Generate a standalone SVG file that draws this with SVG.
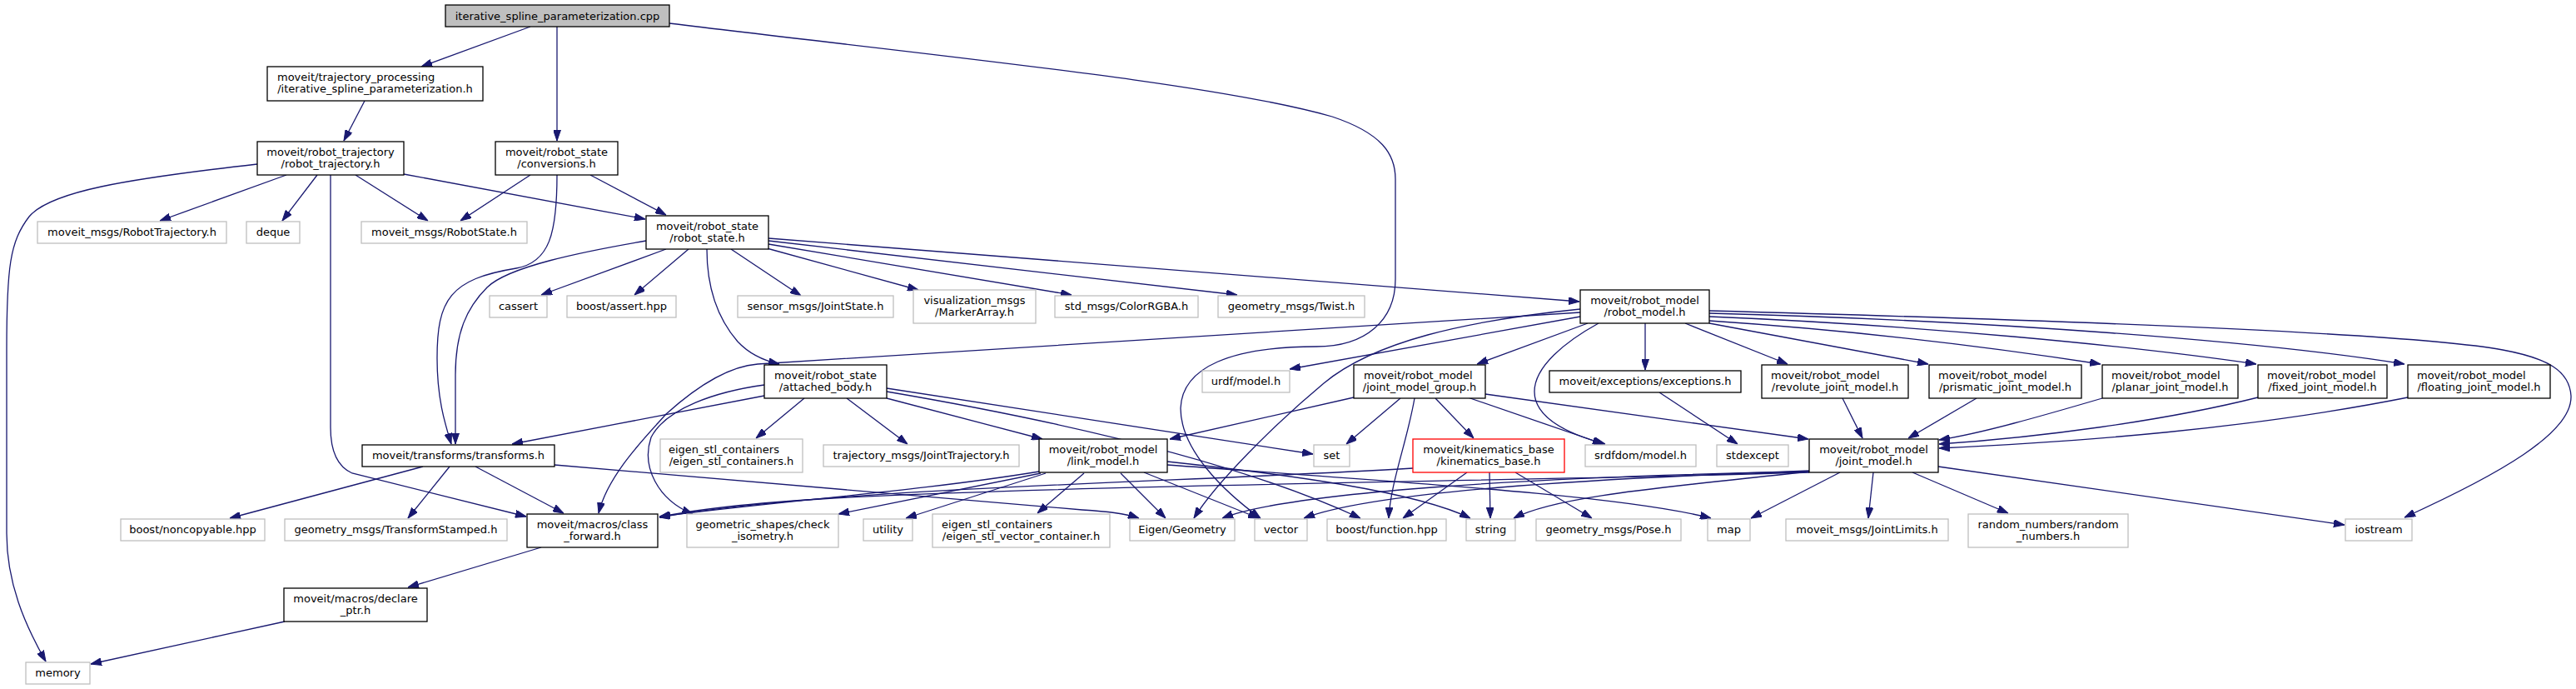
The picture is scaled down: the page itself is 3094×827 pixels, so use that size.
<svg xmlns="http://www.w3.org/2000/svg" width="3094" height="827" viewBox="0 0 3094 827">
<defs>
<style>
.n{fill:#fff;stroke:#000;stroke-width:1.3}
.g{fill:#fff;stroke:#bfbfbf;stroke-width:1.3}
.r{fill:#bfbfbf;stroke:#000;stroke-width:1.3}
.k{fill:#fff;stroke:#ff0000;stroke-width:1.3}
text{font-family:"DejaVu Sans","Liberation Sans",sans-serif;font-size:13px;fill:#000}
.t{text-anchor:middle}
.s{text-anchor:start}
.e path{fill:none;stroke:#191970;stroke-width:1.3;marker-end:url(#ah)}
</style>
<marker id="ah" viewBox="0 0 13 9" refX="13" refY="4.5" markerWidth="13" markerHeight="9" markerUnits="userSpaceOnUse" orient="auto"><path d="M0,0 L13,4.5 L0,9 z" fill="#191970" stroke="#191970" stroke-width="1"/></marker>
</defs>
<rect width="3094" height="827" fill="#fff"/>
<g class="e" id="edges">
<path d="M637,32 L506,80"/>
<path d="M669,32 L669,169"/>
<path d="M804,28 C1150,70 1460,100 1600,140 C1660,160 1676,185 1676,215 L1676,335 C1676,385 1640,416 1581,416 C1480,416 1420,440 1418,490 C1418,540 1470,590 1514,622"/>
<path d="M438,121 L413,169"/>
<path d="M344,210 L192,265"/>
<path d="M381,210 L339,265"/>
<path d="M427,210 L514,265"/>
<path d="M485,209 L775,263"/>
<path d="M397,210 L397,513 C397,540 405,560 423,568 L632,620"/>
<path d="M309,197 C150,215 60,230 35,260 C12,290 8,320 8,420 L8,640 C8,700 30,750 55,794"/>
<path d="M637,210 L553,265"/>
<path d="M669,210 C669,280 660,315 620,322 C540,335 525,360 525,430 C525,480 535,510 542,533"/>
<path d="M709,210 L800,258"/>
<path d="M776,289 C700,302 610,320 585,345 C560,370 547,400 547,450 L547,533"/>
<path d="M800,299 L650,354"/>
<path d="M827,299 L762,354"/>
<path d="M878,299 L962,355"/>
<path d="M921,298 L1103,348"/>
<path d="M923,293 L1287,354"/>
<path d="M923,289 L1486,354"/>
<path d="M923,286 L1897,362"/>
<path d="M849,299 C849,340 860,380 886,410 C900,425 918,433 936,437"/>
<path d="M1898,375 L910,437 C870,440 830,470 800,497 C775,525 730,570 719,616"/>
<path d="M1898,371 C1760,385 1650,410 1590,460 C1530,510 1460,580 1434,622"/>
<path d="M1898,380 L1549,443"/>
<path d="M1907,388 L1774,437"/>
<path d="M1920,388 C1880,410 1843,440 1843,470 C1843,500 1880,520 1928,533"/>
<path d="M1976,388 L1976,444"/>
<path d="M2024,388 L2147,437"/>
<path d="M2053,388 L2316,437"/>
<path d="M2053,385 C2250,398 2400,418 2523,437"/>
<path d="M2053,380 C2300,390 2560,415 2710,437"/>
<path d="M2053,376 C2400,385 2720,410 2888,437"/>
<path d="M2053,373 C2500,385 2900,400 3006,420 C3060,430 3086,445 3088,475 C3090,520 3000,570 2888,621"/>
<path d="M508,560 L276,622"/>
<path d="M540,560 L490,622"/>
<path d="M571,560 L677,616"/>
<path d="M666,558 L1300,612 C1330,614 1350,616 1368,622"/>
<path d="M650,657 L490,705"/>
<path d="M342,746 L109,797"/>
<path d="M966,478 L908,526"/>
<path d="M1017,478 L1090,533"/>
<path d="M1065,478 L1252,527"/>
<path d="M1065,466 L1577,545"/>
<path d="M1065,470 C1300,510 1500,560 1634,622"/>
<path d="M918,475 L615,533"/>
<path d="M918,462 C860,470 800,490 782,525 C770,560 790,600 832,617"/>
<path d="M1248,566 C1100,590 950,600 792,620"/>
<path d="M1250,568 L1007,617"/>
<path d="M1256,568 L1088,622"/>
<path d="M1302,568 L1246,616"/>
<path d="M1346,568 L1400,622"/>
<path d="M1374,567 L1512,622"/>
<path d="M1402,554 C1550,570 1700,590 1766,622"/>
<path d="M1402,558 C1700,580 1950,595 2055,622"/>
<path d="M1626,477 L1405,527"/>
<path d="M1682,478 L1617,533"/>
<path d="M1699,478 C1690,530 1670,580 1668,622"/>
<path d="M1724,478 L1770,526"/>
<path d="M1763,477 L1926,533"/>
<path d="M1784,473 L2172,527"/>
<path d="M1697,562 C1400,580 1000,585 792,621"/>
<path d="M1762,567 L1685,622"/>
<path d="M1789,567 L1790,622"/>
<path d="M1820,567 L1912,622"/>
<path d="M1993,471 L2087,533"/>
<path d="M2213,478 L2237,526"/>
<path d="M2374,478 L2292,526"/>
<path d="M2525,478 C2450,500 2380,520 2329,528"/>
<path d="M2712,477 C2600,505 2450,525 2329,533"/>
<path d="M2892,477 C2700,515 2500,530 2329,538"/>
<path d="M2328,560 L2816,630"/>
<path d="M2297,567 L2412,616"/>
<path d="M2250,567 L2244,622"/>
<path d="M2210,567 L2103,622"/>
<path d="M2173,566 C2000,585 1870,595 1818,622"/>
<path d="M2173,565 C1900,575 1650,590 1566,622"/>
<path d="M2173,566 C1850,572 1550,590 1468,622"/>
<path d="M2173,567 C1800,578 1300,582 1000,598 C900,604 830,612 792,621"/>
</g>
<g id="n_root"><rect class="r" x="535" y="6" width="269" height="26"/><text class="t" x="669.5" y="23.5">iterative_spline_parameterization.cpp</text></g>
<g id="n_isp"><rect class="n" x="321" y="80" width="259" height="41"/><text class="s" x="333" y="96.5">moveit/trajectory_processing</text><text class="t" x="450.5" y="110.5">/iterative_spline_parameterization.h</text></g>
<g id="n_rtraj"><rect class="n" x="309" y="170" width="176" height="40"/><text class="t" x="397" y="186.5">moveit/robot_trajectory</text><text class="t" x="397" y="200.5">/robot_trajectory.h</text></g>
<g id="n_conv"><rect class="n" x="595" y="170" width="147" height="40"/><text class="t" x="668.5" y="186.5">moveit/robot_state</text><text class="t" x="668.5" y="200.5">/conversions.h</text></g>
<g id="n_msgtraj"><rect class="g" x="45" y="266" width="227" height="26"/><text class="t" x="158.5" y="283">moveit_msgs/RobotTrajectory.h</text></g>
<g id="n_deque"><rect class="g" x="296" y="266" width="64" height="26"/><text class="t" x="328" y="283">deque</text></g>
<g id="n_msgstate"><rect class="g" x="434" y="266" width="199" height="26"/><text class="t" x="533.5" y="283">moveit_msgs/RobotState.h</text></g>
<g id="n_rstate"><rect class="n" x="776" y="259" width="147" height="40"/><text class="t" x="849.5" y="275.5">moveit/robot_state</text><text class="t" x="849.5" y="289.5">/robot_state.h</text></g>
<g id="n_cassert"><rect class="g" x="588" y="355" width="69" height="26"/><text class="t" x="622.5" y="372">cassert</text></g>
<g id="n_bassert"><rect class="g" x="681" y="355" width="131" height="26"/><text class="t" x="746.5" y="372">boost/assert.hpp</text></g>
<g id="n_jstate"><rect class="g" x="886" y="355" width="187" height="26"/><text class="t" x="979.5" y="372">sensor_msgs/JointState.h</text></g>
<g id="n_marker"><rect class="g" x="1097" y="348" width="147" height="40"/><text class="t" x="1170.5" y="364.5">visualization_msgs</text><text class="t" x="1170.5" y="378.5">/MarkerArray.h</text></g>
<g id="n_color"><rect class="g" x="1267" y="355" width="172" height="26"/><text class="t" x="1353" y="372">std_msgs/ColorRGBA.h</text></g>
<g id="n_twist"><rect class="g" x="1463" y="355" width="176" height="26"/><text class="t" x="1551" y="372">geometry_msgs/Twist.h</text></g>
<g id="n_rmodel"><rect class="n" x="1898" y="348" width="155" height="40"/><text class="t" x="1975.5" y="364.5">moveit/robot_model</text><text class="t" x="1975.5" y="378.5">/robot_model.h</text></g>
<g id="n_transforms"><rect class="n" x="435" y="534" width="231" height="26"/><text class="t" x="550.5" y="551">moveit/transforms/transforms.h</text></g>
<g id="n_noncopy"><rect class="g" x="145" y="623" width="173" height="26"/><text class="t" x="231.5" y="640">boost/noncopyable.hpp</text></g>
<g id="n_tfstamped"><rect class="g" x="342" y="623" width="267" height="26"/><text class="t" x="475.5" y="640">geometry_msgs/TransformStamped.h</text></g>
<g id="n_classfwd"><rect class="n" x="633" y="617" width="157" height="40"/><text class="t" x="711.5" y="633.5">moveit/macros/class</text><text class="t" x="711.5" y="647.5">_forward.h</text></g>
<g id="n_declptr"><rect class="n" x="341" y="706" width="172" height="40"/><text class="t" x="427" y="722.5">moveit/macros/declare</text><text class="t" x="427" y="736.5">_ptr.h</text></g>
<g id="n_memory"><rect class="g" x="31" y="795" width="77" height="26"/><text class="t" x="69.5" y="812">memory</text></g>
<g id="n_attached"><rect class="n" x="918" y="438" width="147" height="40"/><text class="t" x="991.5" y="454.5">moveit/robot_state</text><text class="t" x="991.5" y="468.5">/attached_body.h</text></g>
<g id="n_eigenstl"><rect class="g" x="793" y="527" width="171" height="40"/><text class="s" x="803" y="543.5">eigen_stl_containers</text><text class="t" x="878.5" y="557.5">/eigen_stl_containers.h</text></g>
<g id="n_jtraj"><rect class="g" x="989" y="534" width="235" height="26"/><text class="t" x="1106.5" y="551">trajectory_msgs/JointTrajectory.h</text></g>
<g id="n_link"><rect class="n" x="1248" y="527" width="154" height="40"/><text class="t" x="1325" y="543.5">moveit/robot_model</text><text class="t" x="1325" y="557.5">/link_model.h</text></g>
<g id="n_urdf"><rect class="g" x="1444" y="445" width="105" height="26"/><text class="t" x="1496.5" y="462">urdf/model.h</text></g>
<g id="n_checkiso"><rect class="g" x="825" y="617" width="182" height="40"/><text class="t" x="916" y="633.5">geometric_shapes/check</text><text class="t" x="916" y="647.5">_isometry.h</text></g>
<g id="n_utility"><rect class="g" x="1037" y="623" width="59" height="26"/><text class="t" x="1066.5" y="640">utility</text></g>
<g id="n_eigenvec"><rect class="g" x="1120" y="617" width="213" height="40"/><text class="s" x="1131" y="633.5">eigen_stl_containers</text><text class="t" x="1226.5" y="647.5">/eigen_stl_vector_container.h</text></g>
<g id="n_eigengeo"><rect class="g" x="1357" y="623" width="126" height="26"/><text class="t" x="1420" y="640">Eigen/Geometry</text></g>
<g id="n_vector"><rect class="g" x="1507" y="623" width="63" height="26"/><text class="t" x="1538.5" y="640">vector</text></g>
<g id="n_set"><rect class="g" x="1578" y="534" width="43" height="26"/><text class="t" x="1599.5" y="551">set</text></g>
<g id="n_jmg"><rect class="n" x="1626" y="438" width="158" height="40"/><text class="s" x="1638" y="454.5">moveit/robot_model</text><text class="t" x="1705" y="468.5">/joint_model_group.h</text></g>
<g id="n_exc"><rect class="n" x="1861" y="445" width="230" height="26"/><text class="t" x="1976" y="462">moveit/exceptions/exceptions.h</text></g>
<g id="n_rev"><rect class="n" x="2116" y="438" width="176" height="40"/><text class="s" x="2127" y="454.5">moveit/robot_model</text><text class="t" x="2204" y="468.5">/revolute_joint_model.h</text></g>
<g id="n_pris"><rect class="n" x="2317" y="438" width="183" height="40"/><text class="s" x="2328" y="454.5">moveit/robot_model</text><text class="t" x="2408.5" y="468.5">/prismatic_joint_model.h</text></g>
<g id="n_planar"><rect class="n" x="2525" y="438" width="163" height="40"/><text class="s" x="2536" y="454.5">moveit/robot_model</text><text class="t" x="2606.5" y="468.5">/planar_joint_model.h</text></g>
<g id="n_fixed"><rect class="n" x="2712" y="438" width="155" height="40"/><text class="s" x="2723" y="454.5">moveit/robot_model</text><text class="t" x="2789.5" y="468.5">/fixed_joint_model.h</text></g>
<g id="n_float"><rect class="n" x="2892" y="438" width="171" height="40"/><text class="s" x="2903" y="454.5">moveit/robot_model</text><text class="t" x="2977.5" y="468.5">/floating_joint_model.h</text></g>
<g id="n_kin"><rect class="k" x="1697" y="527" width="182" height="40"/><text class="t" x="1788" y="543.5">moveit/kinematics_base</text><text class="t" x="1788" y="557.5">/kinematics_base.h</text></g>
<g id="n_srdf"><rect class="g" x="1904" y="534" width="133" height="26"/><text class="t" x="1970.5" y="551">srdfdom/model.h</text></g>
<g id="n_stdexc"><rect class="g" x="2062" y="534" width="86" height="26"/><text class="t" x="2105" y="551">stdexcept</text></g>
<g id="n_jmodel"><rect class="n" x="2173" y="527" width="155" height="40"/><text class="t" x="2250.5" y="543.5">moveit/robot_model</text><text class="t" x="2250.5" y="557.5">/joint_model.h</text></g>
<g id="n_bfunc"><rect class="g" x="1594" y="623" width="143" height="26"/><text class="t" x="1665.5" y="640">boost/function.hpp</text></g>
<g id="n_string"><rect class="g" x="1761" y="623" width="59" height="26"/><text class="t" x="1790.5" y="640">string</text></g>
<g id="n_pose"><rect class="g" x="1845" y="623" width="174" height="26"/><text class="t" x="1932" y="640">geometry_msgs/Pose.h</text></g>
<g id="n_map"><rect class="g" x="2051" y="623" width="51" height="26"/><text class="t" x="2076.5" y="640">map</text></g>
<g id="n_jlimits"><rect class="g" x="2145" y="623" width="195" height="26"/><text class="t" x="2242.5" y="640">moveit_msgs/JointLimits.h</text></g>
<g id="n_random"><rect class="g" x="2364" y="617" width="192" height="40"/><text class="t" x="2460" y="633.5">random_numbers/random</text><text class="t" x="2460" y="647.5">_numbers.h</text></g>
<g id="n_iostream"><rect class="g" x="2817" y="623" width="80" height="26"/><text class="t" x="2857" y="640">iostream</text></g>
</svg>
